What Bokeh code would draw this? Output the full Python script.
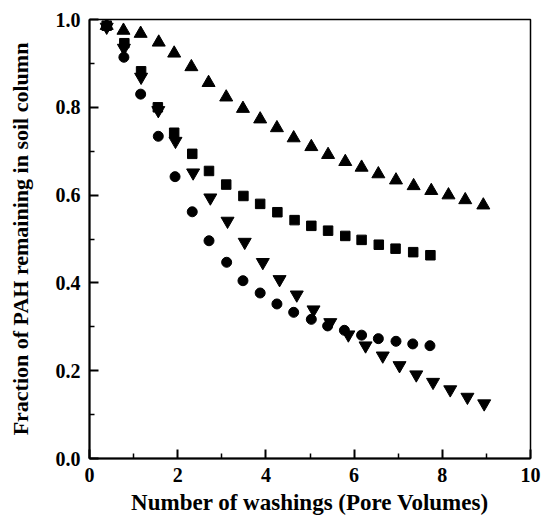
from bokeh.plotting import figure
from bokeh.models import FixedTicker, PrintfTickFormatter, Range1d
from bokeh.embed import file_html
from bokeh.resources import INLINE

# Data (pore volumes vs fraction remaining)
x_up = [0.39, 0.77, 1.16, 1.57, 1.92, 2.31, 2.70, 3.10, 3.48, 3.87, 4.25, 4.63, 5.03,
        5.41, 5.80, 6.17, 6.55, 6.95, 7.35, 7.75, 8.14, 8.52, 8.93]
y_up = [0.986, 0.975, 0.968, 0.948, 0.923, 0.892, 0.856, 0.823, 0.797, 0.773, 0.753,
        0.730, 0.710, 0.692, 0.676, 0.663, 0.648, 0.634, 0.621, 0.610, 0.600, 0.589, 0.577]

x_sq = [0.39, 0.79, 1.17, 1.55, 1.92, 2.33, 2.71, 3.10, 3.49, 3.87, 4.26, 4.65, 5.03,
        5.41, 5.80, 6.17, 6.56, 6.94, 7.34, 7.73]
y_sq = [0.986, 0.946, 0.882, 0.800, 0.742, 0.694, 0.655, 0.624, 0.598, 0.580, 0.561,
        0.543, 0.530, 0.519, 0.507, 0.498, 0.487, 0.478, 0.470, 0.463]

x_ci = [0.39, 0.78, 1.16, 1.56, 1.94, 2.33, 2.71, 3.11, 3.48, 3.87, 4.25, 4.63, 5.03,
        5.40, 5.78, 6.17, 6.55, 6.95, 7.33, 7.72]
y_ci = [0.985, 0.914, 0.830, 0.734, 0.642, 0.562, 0.496, 0.447, 0.405, 0.377, 0.352,
        0.333, 0.317, 0.302, 0.292, 0.281, 0.273, 0.267, 0.261, 0.257]

x_dn = [0.39, 0.78, 1.17, 1.56, 1.95, 2.35, 2.74, 3.13, 3.52, 3.93, 4.31, 4.70, 5.08,
        5.46, 5.87, 6.26, 6.65, 7.03, 7.41, 7.79, 8.18, 8.57, 8.95]
y_dn = [0.983, 0.935, 0.869, 0.793, 0.723, 0.651, 0.594, 0.541, 0.493, 0.447, 0.408,
        0.373, 0.339, 0.310, 0.282, 0.257, 0.234, 0.212, 0.191, 0.174, 0.157, 0.140, 0.125]

x_ticks = [0, 2, 4, 6, 8, 10]
x_minor = [1, 3, 5, 7, 9]
y_ticks = [0.0, 0.2, 0.4, 0.6, 0.8, 1.0]
y_minor = [0.1, 0.3, 0.5, 0.7, 0.9]

FONT = "Liberation Serif"

p = figure(width=541, height=517, output_backend="svg", toolbar_location=None,
           x_range=Range1d(0, 10), y_range=Range1d(0, 1),
           min_border_left=89, min_border_right=11, min_border_top=19, min_border_bottom=58)
p.xgrid.visible = False
p.ygrid.visible = False
p.outline_line_color = "black"
p.outline_line_width = 1.5
p.outline_line_alpha = 1.0
p.background_fill_color = "white"
p.border_fill_color = "white"

p.scatter(x_up, y_up, marker="triangle", size=13, color="black")
p.scatter(x_sq, y_sq, marker="square", size=9.5, color="black")
p.scatter(x_ci, y_ci, marker="circle", size=10, color="black")
p.scatter(x_dn, y_dn, marker="inverted_triangle", size=13, color="black")

for ax, ticks, minor in ((p.xaxis[0], x_ticks, x_minor), (p.yaxis[0], y_ticks, y_minor)):
    ax.ticker = FixedTicker(ticks=ticks, minor_ticks=minor)
    ax.axis_line_width = 2
    ax.major_tick_line_width = 2
    ax.minor_tick_line_width = 1.5
    ax.major_tick_in = 9
    ax.major_tick_out = 0
    ax.minor_tick_in = 5
    ax.minor_tick_out = 0
    ax.major_label_text_font = FONT
    ax.major_label_text_font_style = "bold"
    ax.major_label_text_font_size = "20px"
    ax.major_label_text_color = "black"
    ax.axis_label_text_font = FONT
    ax.axis_label_text_font_style = "bold"
    ax.axis_label_text_color = "black"

p.xaxis[0].axis_label_text_font_size = "23px"
p.yaxis[0].axis_label_text_font_size = "22px"
p.yaxis[0].formatter = PrintfTickFormatter(format="%.1f")
p.xaxis[0].major_label_standoff = 9
p.yaxis[0].major_label_standoff = 9
p.xaxis.axis_label = "Number of washings (Pore Volumes)"
p.yaxis.axis_label = "Fraction of PAH remaining in soil column"
p.xaxis[0].axis_label_standoff = 5
p.yaxis[0].axis_label_standoff = 20

open("out.html", "w").write(file_html(p, INLINE))
